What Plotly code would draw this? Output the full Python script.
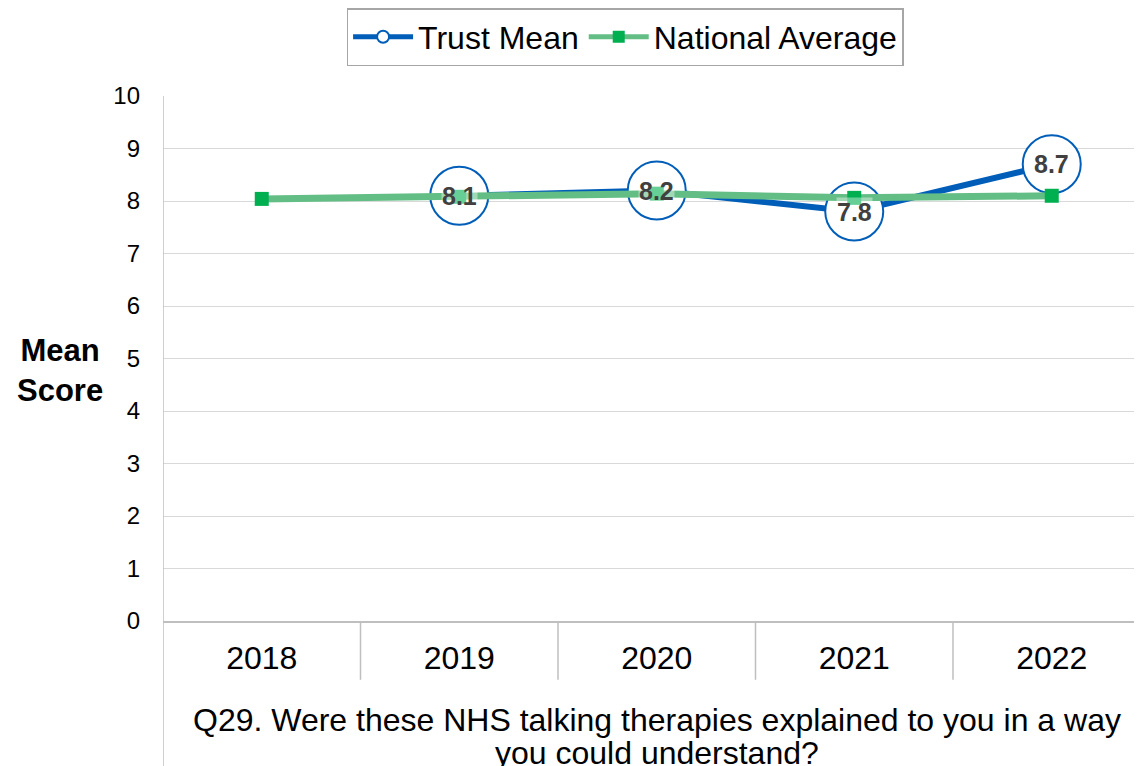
import plotly.graph_objects as go

years = ["2018", "2019", "2020", "2021", "2022"]
trust_mean = [None, 8.1, 8.2, 7.8, 8.7]
national_avg = [8.04, 8.08, 8.14, 8.06, 8.1]
question_lines = ["Q29. Were these NHS talking therapies explained to you in a way",
                  "you could understand?"]

font_family = "Arial, Liberation Sans, sans-serif"
blue = "#005EB8"
green_line = "#63BE85"
green_marker = "#00B050"

fig = go.Figure()

fig.add_trace(go.Scatter(
    x=years, y=trust_mean, name="Trust Mean", mode="lines+markers",
    line=dict(color=blue, width=6),
    marker=dict(symbol="circle", size=58, color="white", line=dict(color=blue, width=2)),
    connectgaps=False,
))

fig.add_trace(go.Scatter(
    x=years, y=national_avg, name="National Average", mode="lines+markers",
    line=dict(color=green_line, width=7),
    marker=dict(symbol="square", size=14, color=green_marker),
))

# data labels for the trust mean (semi-transparent box like Excel)
# category axis -> annotations need the category index
for i, v in enumerate(trust_mean):
    if v is None:
        continue
    fig.add_annotation(x=i, y=v, text=f"<b>{v:.1f}</b>", showarrow=False,
                       xanchor="center", yanchor="middle",
                       bgcolor="rgba(255,255,255,0.4)", borderpad=0,
                       font=dict(family=font_family, size=25, color="#404040"))

# category separators below the axis
for i in range(1, len(years)):
    fig.add_shape(type="line", xref="x", yref="paper", x0=i - 0.5, x1=i - 0.5,
                  y0=0, y1=-0.112, line=dict(color="#BFBFBF", width=1.5))
fig.add_shape(type="line", xref="x", yref="paper", x0=-0.5, x1=-0.5,
              y0=1, y1=-0.3, line=dict(color="#BFBFBF", width=1.5))

for line, ypos in zip(question_lines, [-0.188, -0.251]):
    fig.add_annotation(text=line, xref="x", yref="paper", x=2, y=ypos,
                       xanchor="center", yanchor="middle", showarrow=False,
                       font=dict(family=font_family, size=32, color="black"))

fig.add_annotation(text="<b>Mean<br>Score</b>", xref="paper", yref="paper",
                   x=-0.105, y=0.477, xanchor="center", yanchor="middle", showarrow=False,
                   font=dict(family=font_family, size=31, color="black"), align="center")

# page has an 8px body margin, so the figure is sized to fit the window
fig.update_layout(
    width=1134, height=758,
    margin=dict(l=155, r=0, t=87, b=145),
    paper_bgcolor="white", plot_bgcolor="white",
    font=dict(family=font_family, color="black"),
    showlegend=True,
    legend=dict(orientation="h", x=0.472, y=1.112, xanchor="center", yanchor="middle",
                bordercolor="#A6A6A6", borderwidth=1.5, itemwidth=60,
                font=dict(family=font_family, size=32, color="black"),
                itemsizing="constant", tracegroupgap=0),
    xaxis=dict(type="category", range=[-0.5, 4.457], showgrid=False,
               showline=True, linecolor="#BFBFBF", linewidth=1.5,
               ticks="", ticklabelstandoff=8,
               tickfont=dict(family=font_family, size=32, color="black")),
    yaxis=dict(range=[0, 10], dtick=1, showgrid=True, gridcolor="#D9D9D9", gridwidth=1,
               zeroline=False, showline=False, ticks="", ticklabelstandoff=22,
               tickfont=dict(family=font_family, size=24, color="black")),
)

fig.write_html("out.html")
